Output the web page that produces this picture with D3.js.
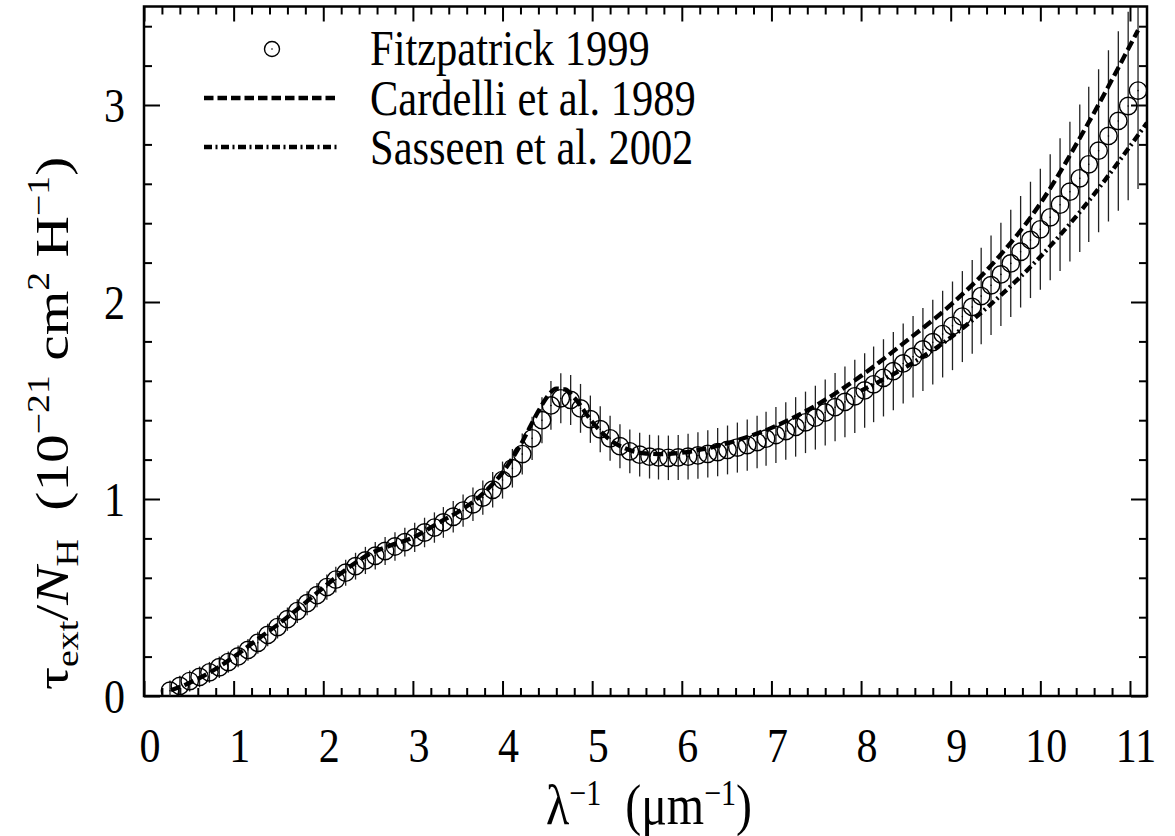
<!DOCTYPE html>
<html><head><meta charset="utf-8">
<script src="https://cdn.jsdelivr.net/npm/d3@7"></script>
<style>
body{margin:0;background:#fff}
svg{display:block}
text{font-family:"Liberation Serif","Times New Roman",serif;fill:#000}
</style>
</head><body>
<svg id="chart" width="1175" height="836"></svg>
<script>
// ---- data ----
const fitzX = [0.29,0.40,0.51,0.62,0.73,0.84,0.94,1.05,1.16,1.27,
  1.38,1.49,1.60,1.71,1.82,1.93,2.04,2.14,2.25,2.36,
  2.47,2.58,2.69,2.80,2.91,3.02,3.13,3.24,3.34,3.45,
  3.56,3.67,3.78,3.89,4.00,4.11,4.22,4.33,4.44,4.54,
  4.65,4.76,4.87,4.98,5.09,5.20,5.31,5.42,5.53,5.64,
  5.74,5.85,5.96,6.07,6.18,6.29,6.40,6.51,6.62,6.73,
  6.84,6.94,7.05,7.16,7.27,7.38,7.49,7.60,7.71,7.82,
  7.93,8.04,8.14,8.25,8.36,8.47,8.58,8.69,8.80,8.91,
  9.02,9.13,9.24,9.34,9.45,9.56,9.67,9.78,9.89,10.00,
  10.11,10.22,10.33,10.44,10.54,10.65,10.76,10.87,10.98,11.09];
const fitzY = [0.027,0.051,0.076,0.097,0.120,0.146,0.172,0.201,0.234,0.270,
  0.310,0.350,0.390,0.431,0.471,0.512,0.553,0.591,0.626,0.659,
  0.688,0.712,0.736,0.759,0.781,0.805,0.830,0.855,0.881,0.910,
  0.941,0.973,1.007,1.047,1.096,1.156,1.228,1.308,1.400,1.475,
  1.511,1.503,1.460,1.405,1.354,1.308,1.268,1.242,1.225,1.215,
  1.211,1.209,1.211,1.215,1.221,1.229,1.238,1.249,1.261,1.274,
  1.289,1.306,1.325,1.345,1.366,1.389,1.413,1.439,1.466,1.493,
  1.521,1.551,1.582,1.615,1.649,1.688,1.722,1.759,1.796,1.837,
  1.879,1.926,1.975,2.030,2.085,2.140,2.196,2.255,2.315,2.369,
  2.430,2.494,2.560,2.628,2.699,2.768,2.843,2.919,2.995,3.073];
const fitzErr = [0.052,0.052,0.053,0.053,0.053,0.054,0.054,0.055,0.055,0.056,
  0.057,0.058,0.059,0.060,0.061,0.062,0.064,0.065,0.066,0.068,
  0.069,0.070,0.071,0.072,0.073,0.074,0.075,0.077,0.078,0.080,
  0.082,0.085,0.087,0.090,0.094,0.098,0.104,0.110,0.117,0.124,
  0.127,0.127,0.124,0.120,0.117,0.114,0.112,0.111,0.111,0.111,
  0.112,0.113,0.114,0.116,0.118,0.120,0.122,0.124,0.127,0.130,
  0.133,0.137,0.142,0.146,0.151,0.156,0.162,0.167,0.173,0.179,
  0.186,0.189,0.192,0.196,0.199,0.203,0.207,0.211,0.215,0.220,
  0.225,0.231,0.238,0.245,0.253,0.262,0.272,0.283,0.295,0.307,
  0.320,0.337,0.355,0.374,0.394,0.414,0.435,0.456,0.478,0.500];

const cardelliX = [0.3,0.5,0.75,1.0,1.25,1.5,1.75,2.0,2.25,2.5,2.75,3.0,3.3,3.5,3.75,
  4.0,4.2,4.4,4.5,4.6,4.7,4.8,5.0,5.2,5.4,5.6,5.8,6.0,6.25,6.5,7.0,7.5,8.0,8.5,9.0,
  9.5,10.0,10.5,11.09];
const cardelliY = [0.029,0.065,0.124,0.198,0.282,0.365,0.455,0.550,0.641,0.717,0.764,0.804,0.883,0.933,1.015,
  1.134,1.274,1.446,1.520,1.560,1.556,1.514,1.392,1.300,1.251,1.231,1.228,1.235,1.254,1.282,1.361,1.476,1.625,1.800,1.985,
  2.210,2.500,2.880,3.380];

const sasseenX = [8.0,8.5,9.0,9.5,10.0,10.5,11.0,11.19];
const sasseenY = [1.55,1.67,1.82,2.01,2.23,2.49,2.79,2.91];

const xMajorTicks = [0,1,2,3,4,5,6,7,8,9,10,11];
const yMajorTicks = [0,1,2,3];
const legendLabels = ["Fitzpatrick 1999","Cardelli et al. 1989","Sasseen et al. 2002"];

// ---- layout ----
const svg = d3.select("#chart");
const L = 144, R = 1147, T = 6.5, B = 696;
const SY = 1.17; // vertical glyph stretch of the original
const x = d3.scaleLinear().domain([0, 11.19]).range([L, R]);
const y = d3.scaleLinear().domain([0, 3.5]).range([B, T]);

svg.append("defs").append("clipPath").attr("id","plotclip")
  .append("rect").attr("x",L).attr("y",T).attr("width",R-L).attr("height",B-T);

const xMinor = d3.range(0, 11.2, 0.2).filter(v => Math.abs(v - Math.round(v)) > 1e-6);
const yMinor = d3.range(0, 3.5, 0.2).filter(v => Math.abs(v - Math.round(v)) > 1e-6);

function tickStyle(g){ g.select(".domain").remove(); g.selectAll("line").attr("stroke","#000").attr("stroke-width",2); g.selectAll("text").remove(); }

svg.append("g").attr("transform",`translate(0,${B})`).call(d3.axisBottom(x).tickValues(xMajorTicks).tickSize(-15)).call(tickStyle);
svg.append("g").attr("transform",`translate(0,${B})`).call(d3.axisBottom(x).tickValues(xMinor).tickSize(-8)).call(tickStyle);
svg.append("g").attr("transform",`translate(0,${T})`).call(d3.axisTop(x).tickValues(xMajorTicks).tickSize(-15)).call(tickStyle);
svg.append("g").attr("transform",`translate(0,${T})`).call(d3.axisTop(x).tickValues(xMinor).tickSize(-8)).call(tickStyle);
svg.append("g").attr("transform",`translate(${L},0)`).call(d3.axisLeft(y).tickValues(yMajorTicks).tickSize(-16)).call(tickStyle);
svg.append("g").attr("transform",`translate(${L},0)`).call(d3.axisLeft(y).tickValues(yMinor).tickSize(-8)).call(tickStyle);
svg.append("g").attr("transform",`translate(${R},0)`).call(d3.axisRight(y).tickValues(yMajorTicks).tickSize(-16)).call(tickStyle);
svg.append("g").attr("transform",`translate(${R},0)`).call(d3.axisRight(y).tickValues(yMinor).tickSize(-8)).call(tickStyle);

svg.append("rect").attr("x",L).attr("y",T).attr("width",R-L).attr("height",B-T)
  .attr("fill","none").attr("stroke","#000").attr("stroke-width",2.5);

// tick labels
svg.append("g").selectAll("text").data(xMajorTicks).join("text")
  .attr("transform", d => `translate(${x(d)+6},762) scale(1,${SY})`)
  .attr("text-anchor","middle").attr("font-size",42).text(d => d);
svg.append("g").selectAll("text").data(yMajorTicks).join("text")
  .attr("transform", d => `translate(125,${y(d)+16.5}) scale(1,${SY})`)
  .attr("text-anchor","end").attr("font-size",42).text(d => d);

// data
const plot = svg.append("g").attr("clip-path","url(#plotclip)");
const fitz = fitzX.map((v,i) => ({x:v, y:fitzY[i], e:fitzErr[i]}));
plot.append("g").selectAll("line").data(fitz).join("line")
  .attr("x1", d => x(d.x)).attr("x2", d => x(d.x))
  .attr("y1", d => y(d.y - d.e)).attr("y2", d => y(d.y + d.e))
  .attr("stroke","#222").attr("stroke-width",1.3);
plot.append("g").selectAll("circle").data(fitz).join("circle")
  .attr("cx", d => x(d.x)).attr("cy", d => y(d.y)).attr("r",8.7)
  .attr("fill","none").attr("stroke","#000").attr("stroke-width",1.4);
plot.append("g").selectAll("circle").data(fitz).join("circle")
  .attr("cx", d => x(d.x)).attr("cy", d => y(d.y)).attr("r",0.8).attr("fill","#000");

const line = d3.line().x(d => x(d[0])).y(d => y(d[1])).curve(d3.curveMonotoneX);
plot.append("path").datum(cardelliX.map((v,i)=>[v,cardelliY[i]])).attr("d",line)
  .attr("fill","none").attr("stroke","#000").attr("stroke-width",4.3).attr("stroke-dasharray","10,4.5");
plot.append("path").datum(sasseenX.map((v,i)=>[v,sasseenY[i]])).attr("d",line)
  .attr("fill","none").attr("stroke","#000").attr("stroke-width",4.3).attr("stroke-dasharray","8,3.5,2,3.5");

// legend
const leg = svg.append("g");
leg.append("circle").attr("cx",272).attr("cy",49).attr("r",7.5).attr("fill","none").attr("stroke","#000").attr("stroke-width",1.4);
leg.append("circle").attr("cx",272).attr("cy",49).attr("r",0.8).attr("fill","#000");
leg.append("line").attr("x1",204).attr("x2",339).attr("y1",98).attr("y2",98)
  .attr("stroke","#000").attr("stroke-width",4.3).attr("stroke-dasharray","9.5,4");
leg.append("line").attr("x1",204).attr("x2",339).attr("y1",147).attr("y2",147)
  .attr("stroke","#000").attr("stroke-width",4.3).attr("stroke-dasharray","8,3.5,2,3.5");
leg.selectAll("text").data(legendLabels).join("text")
  .attr("transform",(d,i) => `translate(370,${65+i*49.5}) scale(1,${SY})`)
  .attr("font-size",42.5).text(d => d);

// x-axis title
const xt = svg.append("text").attr("transform",`translate(546,824) scale(1,${SY})`)
  .attr("text-anchor","start").attr("font-size",48);
xt.append("tspan").text("λ");
xt.append("tspan").attr("font-size",30).attr("dy",-16).text("−1");
xt.append("tspan").attr("dy",16).text("\u00a0\u00a0(μm");
xt.append("tspan").attr("font-size",30).attr("dy",-16).text("−1");
xt.append("tspan").attr("dy",16).text(")");

// y-axis title (reads upward, starts at the bottom)
const yt = svg.append("text").attr("transform",`translate(68,690) rotate(-90) scale(1.22,1)`)
  .attr("text-anchor","start").attr("font-size",47);
yt.append("tspan").text("τ");
yt.append("tspan").attr("font-size",31).attr("dy",10).text("ext");
yt.append("tspan").attr("dy",-10).text("/");
yt.append("tspan").attr("font-style","italic").text("N");
yt.append("tspan").attr("font-size",31).attr("dy",10).text("H");
yt.append("tspan").attr("dy",-10).text("\u00a0\u00a0(10");
yt.append("tspan").attr("font-size",31).attr("dy",-19).text("−21");
yt.append("tspan").attr("dy",19).text("\u00a0cm");
yt.append("tspan").attr("font-size",31).attr("dy",-19).text("2");
yt.append("tspan").attr("dy",19).text("\u00a0H");
yt.append("tspan").attr("font-size",31).attr("dy",-19).text("−1");
yt.append("tspan").attr("dy",19).text(")");
</script>
</body></html>
